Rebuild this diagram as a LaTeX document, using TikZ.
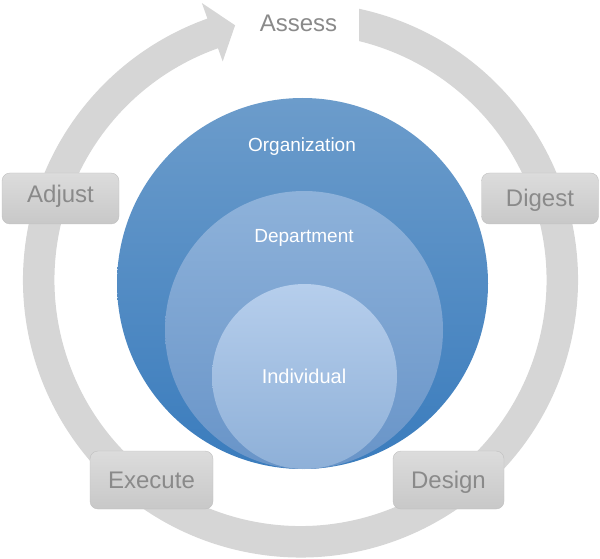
\documentclass[tikz,border=0pt]{standalone}
\usepackage{fontspec}
\setmainfont{Liberation Sans}
\usetikzlibrary{calc, positioning}

\definecolor{ringgray}{RGB}{214,214,214}
\definecolor{labelgray}{RGB}{138,138,138}
\definecolor{boxtop}{RGB}{220,220,220}
\definecolor{boxbot}{RGB}{200,200,200}
\definecolor{boxedge}{RGB}{192,192,192}
\definecolor{orgtop}{RGB}{108,156,203}
\definecolor{orgbot}{RGB}{58,124,189}
\definecolor{depttop}{RGB}{142,178,218}
\definecolor{deptbot}{RGB}{104,148,200}
\definecolor{indtop}{RGB}{182,206,236}
\definecolor{indbot}{RGB}{142,176,216}

\begin{document}
\begin{tikzpicture}[x=1pt, y=1pt,
    stagebox/.style={draw=boxedge, rounded corners=8pt, top color=boxtop, bottom color=boxbot,
      text=labelgray, font=\fontsize{24}{28}\selectfont, inner sep=0pt,
      text height=17pt, text depth=0pt},
    ball/.style={circle, inner sep=0pt, draw=none},
    balllabel/.style={text=white, font=\fontsize{19}{22}\selectfont, anchor=base}]
  \useasboundingbox (0,0) rectangle (600,558);
  \coordinate (C) at (300.5,278);

  % cycle arrow
  \fill[ringgray] ($(C)+(77.83:277.5)$) arc[start angle=77.83, end angle=-250.4, radius=277.5]
    -- ($(C)+(109.6:294)$) -- ($(C)+(104.4:263)$) -- ($(C)+(109.6:232)$)
    -- ($(C)+(109.6:246)$) arc[start angle=-250.4, end angle=76.24, radius=246] -- cycle;

  % nested circles
  \node[ball, minimum size=371pt, top color=orgtop, bottom color=orgbot] (org) at (302.5,274.5) {};
  \node[ball, minimum size=278pt, top color=depttop, bottom color=deptbot] (dept) at (304,228) {};
  \node[ball, minimum size=185pt, top color=indtop, bottom color=indbot] (ind) at (304.5,181.5) {};

  \node[balllabel] (orglabel) at (302,406) {Organization};
  \node[balllabel] (deptlabel) at (304,316) {Department};
  \node[balllabel, font=\fontsize{20}{24}\selectfont] (indlabel) at (304,175) {Individual};

  % stages
  \node[text=labelgray, font=\fontsize{24}{28}\selectfont, anchor=base] (assess) at (298.5,526) {Assess};
  \node[stagebox, minimum width=117pt, minimum height=51pt] (digest) at (540,359.5) {Digest};
  \node[stagebox, minimum width=111pt, minimum height=58pt] (design) at (448.5,78) {Design};
  \node[stagebox, minimum width=123pt, minimum height=58pt] (execute) at (151.5,78) {Execute};
  \node[stagebox, minimum width=117pt, minimum height=51pt, text depth=8pt] (adjust) at (60.5,359.5) {Adjust};
\end{tikzpicture}
\end{document}
